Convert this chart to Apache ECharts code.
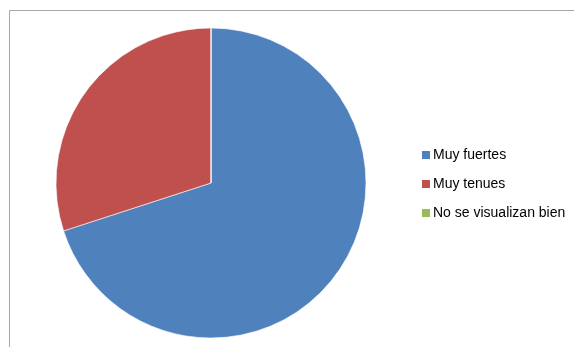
<!DOCTYPE html>
<html><head><meta charset="utf-8">
<script src="https://cdn.jsdelivr.net/npm/echarts@6/dist/echarts.min.js"></script>
<style>html,body{margin:0;padding:0;background:#fff}#c{width:574px;height:347px}</style>
</head><body><div id="c"></div>
<script>
const categories = ["Muy fuertes", "Muy tenues", "No se visualizan bien"];
const values = [70, 30, 0];
const colors = ["#4f81bd", "#c0504d", "#9bbb59"];

const chart = echarts.init(document.getElementById('c'), null, {renderer: 'canvas'});
chart.setOption({
  animation: false,
  color: colors,
  graphic: [
    {type: 'line', shape: {x1: 9.5, y1: 10.5, x2: 574, y2: 10.5}, style: {stroke: '#a6a6a6', lineWidth: 1}},
    {type: 'line', shape: {x1: 9.5, y1: 10.5, x2: 9.5, y2: 347}, style: {stroke: '#a6a6a6', lineWidth: 1}}
  ],
  legend: {
    orient: 'vertical',
    left: 417,
    top: 142,
    icon: 'rect',
    itemWidth: 8,
    itemHeight: 8,
    itemGap: 13,
    itemStyle: {borderWidth: 0},
    textStyle: {fontFamily: 'Liberation Sans, Arial, sans-serif', fontSize: 14, color: '#000', padding: [0,0,0,-2], lineHeight: 16},
    data: categories
  },
  series: [{
    type: 'pie',
    center: [211, 183],
    radius: 155,
    startAngle: 90,
    clockwise: true,
    label: {show: false},
    labelLine: {show: false},
    emphasis: {disabled: true},
    itemStyle: {borderColor: '#fff', borderWidth: 0.6},
    data: categories.map((n, i) => ({name: n, value: values[i]}))
  }]
});
</script></body></html>
